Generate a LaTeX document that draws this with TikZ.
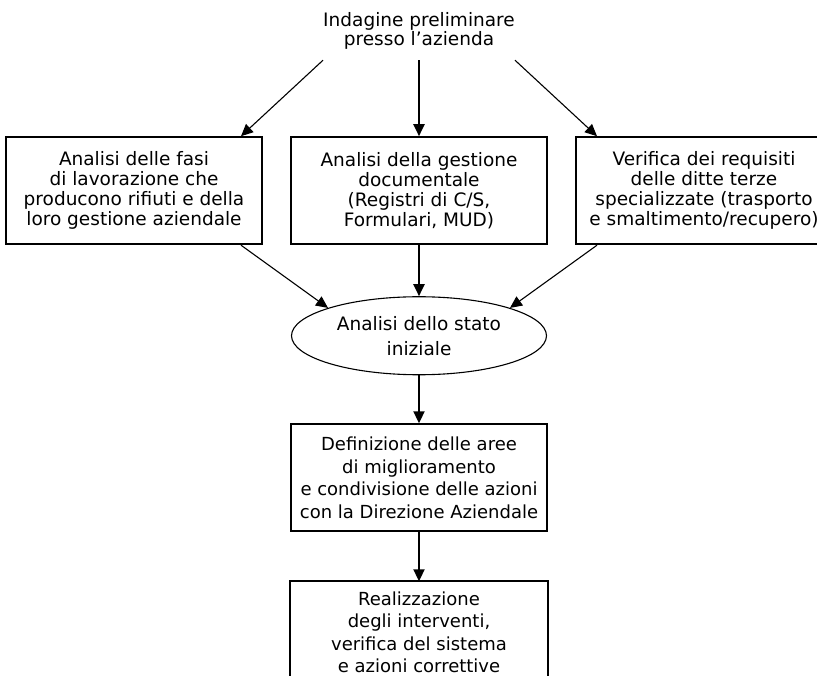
\documentclass[tikz,border=0pt]{standalone}
\usepackage{fontspec}
\setmainfont{DejaVu Sans}
\usepackage{tikz}
\usetikzlibrary{positioning,arrows.meta,calc,shapes.geometric}

\begin{document}
\begin{tikzpicture}[x=1pt,y=-1pt,
      node distance=49pt and 27pt,
      stepbox/.style={draw,line width=2pt,align=center,minimum width=256pt,
        minimum height=107pt,inner sep=0pt,font=\fontsize{18.5}{20}\selectfont},
      lowbox/.style={stepbox,font=\fontsize{18}{22.5}\selectfont},
      arrow/.style={-{Triangle[length=12pt,width=11pt]},line width=1.1pt},
      varrow/.style={arrow,line width=2pt}]
    \useasboundingbox (0,0) rectangle (817,676);
    \node[align=center,inner xsep=0pt,minimum height=58pt,
      font=\fontsize{18.5}{18.5}\selectfont] (s0) at (419,31)
      {Indagine preliminare\\presso l’azienda};
    \node[stepbox,below=76pt of s0] (s2) {Analisi della gestione\\documentale\\
      (Registri di C/S,\\Formulari, MUD)};
    \node[stepbox,left=of s2] (s1) {Analisi delle fasi\\di lavorazione che\\
      producono rifiuti e della\\loro gestione aziendale};
    \node[stepbox,right=of s2] (s3) {Verifica dei requisiti\\delle ditte terze\\
      specializzate (trasporto\\e smaltimento/recupero)};
    \node[ellipse,draw,line width=1.1pt,minimum width=255pt,minimum height=78pt,
      inner sep=0pt,align=center,font=\fontsize{18.5}{25}\selectfont,below=51pt of s2] (s4)
      {Analisi dello stato\\iniziale};
    \node[lowbox,below=48pt of s4] (s5) {Definizione delle aree\\di miglioramento\\
      e condivisione delle azioni\\con la Direzione Aziendale};
    % last box runs off the lower edge: no bottom line
    \node[lowbox,draw=none,minimum height=100pt,below=of s5] (s6) {Realizzazione\\degli interventi,\\
      verifica del sistema\\e azioni correttive};
    \draw[line width=2pt] ([yshift=2pt]s6.south west) |- (s6.north east) -- ([yshift=2pt]s6.south east);
    \draw[arrow] (s0.south west) -- ([xshift=-22pt]s1.north east);
    \draw[varrow] (s0) -- (s2);
    \draw[arrow] (s0.south east) -- ([xshift=22pt]s3.north west);
    \draw[arrow] ([xshift=-22pt]s1.south east) -- (s4.163);
    \draw[varrow] (s2) -- (s4);
    \draw[arrow] ([xshift=22pt]s3.south west) -- (s4.17);
    \draw[varrow] (s4) -- (s5);
    \draw[varrow] (s5) -- (s6);
  \end{tikzpicture}
\end{document}
